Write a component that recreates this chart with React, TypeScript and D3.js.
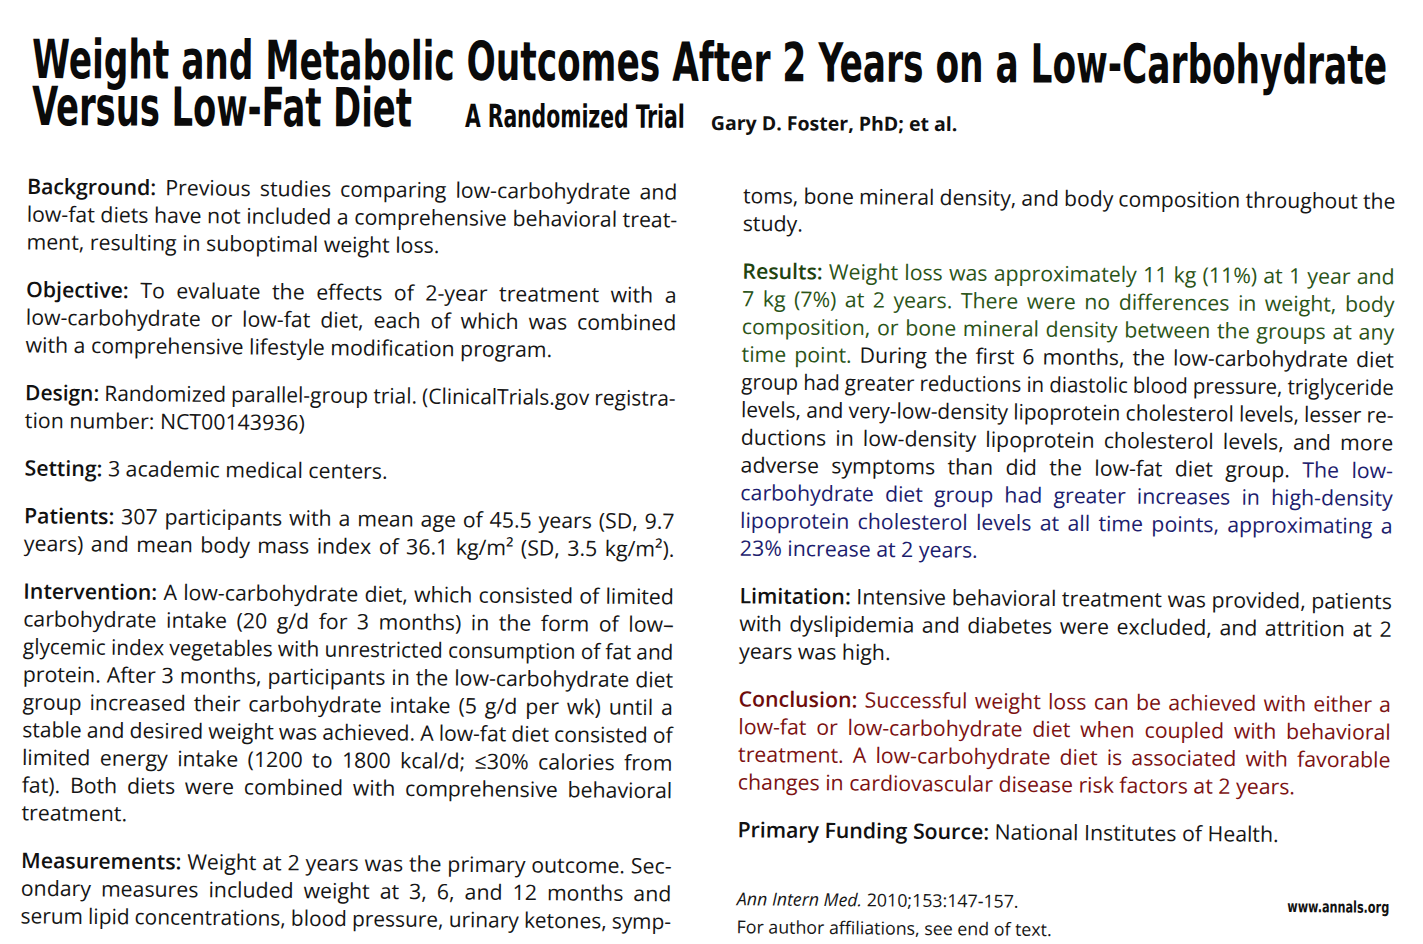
import React, { useEffect, useRef } from "react";
import * as d3 from "d3";

type Seg = [string, string];
type Para = Seg[][];

const titleLine1 = "Weight and Metabolic Outcomes After 2 Years on a Low-Carbohydrate";
const titleLine2 = "Versus Low-Fat Diet";
const subtitle = "A Randomized Trial";
const authors = "Gary D. Foster, PhD; et al.";

const backgroundPara: Para = [
  [["b", "Background:"], ["n", " Previous studies comparing low-carbohydrate and"]],
  [["n", "low-fat diets have not included a comprehensive behavioral treat-"]],
  [["n", "ment, resulting in suboptimal weight loss."]],
];
const objectivePara: Para = [
  [["b", "Objective:"], ["n", " To evaluate the effects of 2-year treatment with a"]],
  [["n", "low-carbohydrate or low-fat diet, each of which was combined"]],
  [["n", "with a comprehensive lifestyle modification program."]],
];
const designPara: Para = [
  [["b", "Design:"], ["n", " Randomized parallel-group trial. (ClinicalTrials.gov registra-"]],
  [["n", "tion number: NCT00143936)"]],
];
const settingPara: Para = [
  [["b", "Setting:"], ["n", " 3 academic medical centers."]],
];
const patientsPara: Para = [
  [["b", "Patients:"], ["n", " 307 participants with a mean age of 45.5 years (SD, 9.7"]],
  [["n", "years) and mean body mass index of 36.1 kg/m² (SD, 3.5 kg/m²)."]],
];
const interventionPara: Para = [
  [["b", "Intervention:"], ["n", " A low-carbohydrate diet, which consisted of limited"]],
  [["n", "carbohydrate intake (20 g/d for 3 months) in the form of low–"]],
  [["n", "glycemic index vegetables with unrestricted consumption of fat and"]],
  [["n", "protein. After 3 months, participants in the low-carbohydrate diet"]],
  [["n", "group increased their carbohydrate intake (5 g/d per wk) until a"]],
  [["n", "stable and desired weight was achieved. A low-fat diet consisted of"]],
  [["n", "limited energy intake (1200 to 1800 kcal/d; ≤30% calories from"]],
  [["n", "fat). Both diets were combined with comprehensive behavioral"]],
  [["n", "treatment."]],
];
const measurementsPara: Para = [
  [["b", "Measurements:"], ["n", " Weight at 2 years was the primary outcome. Sec-"]],
  [["n", "ondary measures included weight at 3, 6, and 12 months and"]],
  [["n", "serum lipid concentrations, blood pressure, urinary ketones, symp-"]],
];
const measurementsContPara: Para = [
  [["n", "toms, bone mineral density, and body composition throughout the"]],
  [["n", "study."]],
];
const resultsPara: Para = [
  [["gb", "Results:"], ["g", " Weight loss was approximately 11 kg (11%) at 1 year and"]],
  [["g", "7 kg (7%) at 2 years. There were no differences in weight, body"]],
  [["g", "composition, or bone mineral density between the groups at any"]],
  [["g", "time point."], ["n", " During the first 6 months, the low-carbohydrate diet"]],
  [["n", "group had greater reductions in diastolic blood pressure, triglyceride"]],
  [["n", "levels, and very-low-density lipoprotein cholesterol levels, lesser re-"]],
  [["n", "ductions in low-density lipoprotein cholesterol levels, and more"]],
  [["n", "adverse symptoms than did the low-fat diet group."], ["u", " The low-"]],
  [["u", "carbohydrate diet group had greater increases in high-density"]],
  [["u", "lipoprotein cholesterol levels at all time points, approximating a"]],
  [["u", "23% increase at 2 years."]],
];
const limitationPara: Para = [
  [["b", "Limitation:"], ["n", " Intensive behavioral treatment was provided, patients"]],
  [["n", "with dyslipidemia and diabetes were excluded, and attrition at 2"]],
  [["n", "years was high."]],
];
const conclusionPara: Para = [
  [["rb", "Conclusion:"], ["r", " Successful weight loss can be achieved with either a"]],
  [["r", "low-fat or low-carbohydrate diet when coupled with behavioral"]],
  [["r", "treatment. A low-carbohydrate diet is associated with favorable"]],
  [["r", "changes in cardiovascular disease risk factors at 2 years."]],
];
const fundingPara: Para = [
  [["b", "Primary Funding Source:"], ["n", " National Institutes of Health."]],
];

const leftColumn: Para[] = [backgroundPara, objectivePara, designPara, settingPara, patientsPara, interventionPara, measurementsPara];
const rightColumn: Para[] = [measurementsContPara, resultsPara, limitationPara, conclusionPara, fundingPara];
// paragraphs whose final line is set full width (continued paragraph / full last line)
const fullLastLine: Para[] = [measurementsPara, patientsPara];

const footerLine1: Seg[] = [["i", "Ann Intern Med."], ["n", " 2010;153:147-157."]];
const footerLine2: Seg[] = [["n", "For author affiliations, see end of text."]];
const footerSite = "www.annals.org";

const W = 1423;
const H = 944;
const BODY_FONT = "'Open Sans', 'Noto Sans', sans-serif";
const TITLE_FONT = "'Liberation Sans Narrow', 'DejaVu Sans Condensed', 'Liberation Sans', sans-serif";
const FS = 21.3;
const LINE_H = 27.7;
const PARA_GAP = 20;

const STYLE: Record<string, { fill: string; weight: number; italic?: boolean }> = {
  n: { fill: "#161616", weight: 400 },
  b: { fill: "#111111", weight: 600 },
  g: { fill: "#2b5418", weight: 400 },
  gb: { fill: "#1f4410", weight: 600 },
  u: { fill: "#1d1d6e", weight: 400 },
  r: { fill: "#7c1212", weight: 400 },
  rb: { fill: "#6e0c0c", weight: 600 },
  i: { fill: "#161616", weight: 400, italic: true },
};

function applyStyle(sel: any, st: string) {
  const s = STYLE[st];
  sel.attr("fill", s.fill).attr("font-weight", s.weight);
  if (s.italic) sel.attr("font-style", "italic");
}

export default function App() {
  const ref = useRef<SVGSVGElement | null>(null);

  useEffect(() => {
    const svg = d3.select(ref.current);
    svg.selectAll("*").remove();
    svg.append("rect").attr("width", W).attr("height", H).attr("fill", "#ffffff");

    // word measurement in an isolated text element (no cross-word shaping)
    const probe = svg.append("text")
      .attr("x", 0).attr("y", -100)
      .attr("font-family", BODY_FONT).attr("font-size", FS)
      .style("font-variant-ligatures", "none");
    function measureWord(w: string, st: string): number {
      probe.attr("font-weight", STYLE[st].weight).attr("font-style", STYLE[st].italic ? "italic" : "normal").text(w);
      return (probe.node() as SVGTextContentElement).getComputedTextLength();
    }

    // Title block: text fitted to a target width by horizontal scaling
    const title = svg.append("g").attr("transform", "rotate(0.25, 711, 100)");
    function fitted(g: any, str: string, x: number, y: number, size: number, targetW: number, family: string, weight: number) {
      const t = g.append("text")
        .attr("x", 0).attr("y", 0)
        .attr("font-family", family).attr("font-weight", weight).attr("font-size", size)
        .attr("fill", "#0a0a0a")
        .text(str);
      const L = (t.node() as SVGTextContentElement).getComputedTextLength();
      t.attr("transform", `translate(${x},${y}) scale(${targetW / L},1)`);
      return t;
    }
    fitted(title, titleLine1, 32, 81, 54, 1355, TITLE_FONT, 700);
    fitted(title, titleLine2, 32, 128, 54, 380, TITLE_FONT, 700);
    fitted(title, subtitle, 465, 128, 32, 220, TITLE_FONT, 700);
    title.append("text")
      .attr("x", 711).attr("y", 130)
      .attr("font-family", BODY_FONT).attr("font-weight", 700).attr("font-size", 19.5)
      .attr("fill", "#111")
      .text(authors);

    const body = svg.append("g").attr("transform", "rotate(0.5, 711, 472)");

    function drawColumn(paras: Para[], x0: number, x1: number, y0: number) {
      const width = x1 - x0;
      let y = y0;
      paras.forEach((para) => {
        const full = fullLastLine.includes(para);
        para.forEach((line, li) => {
          const justify = li < para.length - 1 || full;
          const t = body.append("text")
            .attr("x", x0).attr("y", y)
            .attr("font-family", BODY_FONT).attr("font-size", FS)
            .style("font-variant-ligatures", "none")
            .style("white-space", "pre");
          if (!justify) {
            line.forEach(([st, txt]) => {
              const ts = t.append("tspan").text(txt);
              applyStyle(ts, st);
            });
          } else {
            const words: { st: string; w: string }[] = [];
            line.forEach(([st, txt]) => {
              txt.split(" ").filter((w) => w.length > 0).forEach((w) => words.push({ st, w }));
            });
            const lens = words.map(({ st, w }) => measureWord(w, st));
            const total = d3.sum(lens);
            const n = words.length;
            const minGap = FS * 0.24;
            let s = 1;
            if (n > 1 && total + minGap * (n - 1) > width) {
              s = (width - minGap * (n - 1)) / total;
              t.attr("transform", `translate(${x0},0) scale(${s},1) translate(${-x0},0)`);
            }
            const availW = width / s;
            const gap = n > 1 ? (availW - total) / (n - 1) : 0;
            let cx = x0;
            words.forEach(({ st, w }, i) => {
              const ts = t.append("tspan").attr("x", cx).text(w);
              applyStyle(ts, st);
              cx += lens[i] + gap;
            });
          }
          y += LINE_H;
        });
        y += PARA_GAP;
      });
    }

    drawColumn(leftColumn, 24.5, 675, 200);
    drawColumn(rightColumn, 740.6, 1393, 203);
    probe.remove();

    const f1 = body.append("text").attr("x", 740.6).attr("y", 905)
      .attr("font-family", BODY_FONT).attr("font-size", 17.8).style("white-space", "pre");
    footerLine1.forEach(([st, txt]) => applyStyle(f1.append("tspan").text(txt), st));
    const f2 = body.append("text").attr("x", 740.6).attr("y", 933)
      .attr("font-family", BODY_FONT).attr("font-size", 17.8).style("white-space", "pre");
    footerLine2.forEach(([st, txt]) => applyStyle(f2.append("tspan").text(txt), st));
    const site = body.append("text").attr("x", 0).attr("y", 0)
      .attr("text-anchor", "end")
      .attr("font-family", TITLE_FONT).attr("font-weight", 700).attr("font-size", 16)
      .attr("fill", "#111")
      .text(footerSite);
    const sL = (site.node() as SVGTextContentElement).getComputedTextLength();
    site.attr("transform", `translate(1393,907) scale(${102 / sL},1)`);
  }, []);

  return (
    <svg
      ref={ref}
      width={W}
      height={H}
      viewBox={`0 0 ${W} ${H}`}
      style={{ position: "absolute", left: 0, top: 0, display: "block" }}
    />
  );
}
